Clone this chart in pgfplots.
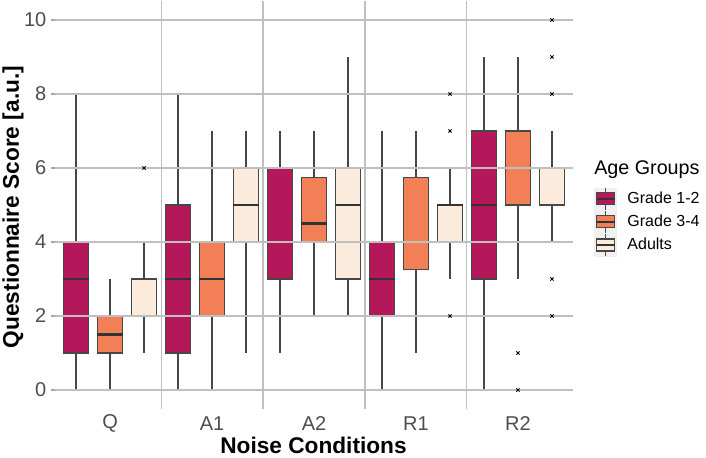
\documentclass[border=0pt]{standalone}
\usepackage{pgfplots}
\pgfplotsset{compat=1.18}
\usepgfplotslibrary{statistics}
\usepackage{fontspec}
\setmainfont{Liberation Sans}
\definecolor{gA}{HTML}{B5185A}
\definecolor{gB}{HTML}{F27F56}
\definecolor{gC}{HTML}{FAEBDD}
\definecolor{edge}{HTML}{474747}
\definecolor{tick}{HTML}{4D4D4D}
% box without outliers: pos, lw, lq, med, uq, uw, colour
\newcommand{\bx}[7]{%
\addplot[boxplot prepared={draw position=#1, lower whisker=#2, lower quartile=#3, median=#4, upper quartile=#5, upper whisker=#6, box extend=0.25, whisker extend=0}, fill=#7, draw=edge, line width=1pt, forget plot] coordinates {};}
% box with outliers: pos, lw, lq, med, uq, uw, colour, outliers (v\\ rows)
\newcommand{\bxo}[8]{%
\addplot[boxplot prepared={draw position=#1, lower whisker=#2, lower quartile=#3, median=#4, upper quartile=#5, upper whisker=#6, box extend=0.25, whisker extend=0}, fill=#7, draw=edge, line width=1pt, mark=x, mark size=1.7pt, mark options={draw=black, line width=0.7pt}, forget plot] table[row sep=\\, y index=0] {v\\#8};}
\begin{document}
\begin{tikzpicture}
\useasboundingbox (-41.25pt,-36.375pt) rectangle (488.25pt,306.375pt);
\begin{axis}[
  at={(0pt,0pt)}, anchor=south west,
  scale only axis, width=388.5pt, height=305.25pt,
  xmin=0.46, xmax=5.54, ymin=-0.5, ymax=10.5,
  xtick={1,2,3,4,5}, xticklabels={Q,A1,A2,R1,R2},
  minor xtick={1.5,2.5,3.5,4.5},
  ytick={0,2,4,6,8,10},
  xmajorgrids=false, xminorgrids=true, ymajorgrids=true,
  major grid style={black!25, line width=0.8pt},
  minor grid style={black!25, line width=0.8pt},
  axis on top,
  axis line style={draw=none},
  xtick pos=bottom, ytick pos=left,
  xtick style={draw=none}, minor tick style={draw=none}, minor tick length=0pt,
  ytick style={black!35, line width=0.8pt},
  major tick length=3pt, tick align=outside,
  ticklabel style={font=\fontsize{15}{15}\selectfont, text=tick},
  /pgf/number format/assume math mode=true,
  xticklabel style={anchor=center, yshift=-8.5pt},
  xlabel={Noise Conditions}, ylabel={Questionnaire Score [a.u.]},
  label style={font=\bfseries\fontsize{17}{17}\selectfont},
  xlabel style={at={(axis description cs:0.499,-0.0897)}, anchor=center},
  ylabel style={at={(axis description cs:-0.081,0.495)}, anchor=center},
  boxplot/draw direction=y,
  boxplot/every median/.style={draw=black!80, line width=2pt},
  boxplot/every whisker/.style={draw=edge, line width=1pt},
  legend style={at={(axis description cs:1.0405,0.544)}, anchor=north west, draw=none, fill=none, inner sep=0pt, row sep=0pt, font=\fontsize{12}{12}\selectfont, /tikz/every odd column/.append style={column sep=6pt}},
  legend cell align=left,
  clip=false,
]
% Q
\bx{0.6667}{0}{1}{3}{4}{8}{gA}
\bx{1}{0}{1}{1.5}{2}{3}{gB}
\bxo{1.3333}{1}{2}{2}{3}{4}{gC}{6\\}
% A1
\bx{1.6667}{0}{1}{3}{5}{8}{gA}
\bx{2}{0}{2}{3}{4}{7}{gB}
\bx{2.3333}{1}{4}{5}{6}{7}{gC}
% A2
\bx{2.6667}{1}{3}{6}{6}{7}{gA}
\bx{3}{2}{4}{4.5}{5.75}{7}{gB}
\bx{3.3333}{2}{3}{5}{6}{9}{gC}
% R1
\bx{3.6667}{0}{2}{3}{4}{7}{gA}
\bx{4}{1}{3.25}{4}{5.75}{7}{gB}
\bxo{4.3333}{3}{4}{5}{5}{6}{gC}{2\\7\\8\\}
% R2
\bx{4.6667}{0}{3}{5}{7}{9}{gA}
\bxo{5}{3}{5}{6}{7}{9}{gB}{1\\0\\}
\bxo{5.3333}{4}{5}{6}{6}{7}{gC}{10\\9\\8\\3\\2\\}
% legend
\addlegendimage{legend image code/.code={
  \fill[black!6] (0pt,-8.25pt) rectangle (16.5pt,8.25pt);
  \draw[edge, line width=0.8pt] (8.25pt,-8.25pt) -- (8.25pt,-4.5pt) (8.25pt,4.5pt) -- (8.25pt,8.25pt);
  \filldraw[fill=gA, draw=edge, line width=0.8pt] (1.5pt,-4.5pt) rectangle (15pt,4.5pt);
  \draw[black!80, line width=1.2pt] (1.5pt,0pt) -- (15pt,0pt);}}
\addlegendentry{Grade 1-2}
\addlegendimage{legend image code/.code={
  \fill[black!6] (0pt,-8.25pt) rectangle (16.5pt,8.25pt);
  \draw[edge, line width=0.8pt] (8.25pt,-8.25pt) -- (8.25pt,-4.5pt) (8.25pt,4.5pt) -- (8.25pt,8.25pt);
  \filldraw[fill=gB, draw=edge, line width=0.8pt] (1.5pt,-4.5pt) rectangle (15pt,4.5pt);
  \draw[black!80, line width=1.2pt] (1.5pt,0pt) -- (15pt,0pt);}}
\addlegendentry{Grade 3-4}
\addlegendimage{legend image code/.code={
  \fill[black!6] (0pt,-8.25pt) rectangle (16.5pt,8.25pt);
  \draw[edge, line width=0.8pt] (8.25pt,-8.25pt) -- (8.25pt,-4.5pt) (8.25pt,4.5pt) -- (8.25pt,8.25pt);
  \filldraw[fill=gC, draw=edge, line width=0.8pt] (1.5pt,-4.5pt) rectangle (15pt,4.5pt);
  \draw[black!80, line width=1.2pt] (1.5pt,0pt) -- (15pt,0pt);}}
\addlegendentry{Adults}
\node[anchor=west, font=\fontsize{14.8}{14.8}\selectfont, inner sep=0pt] at (axis description cs:1.0405,0.586) {Age Groups};
\end{axis}
\end{tikzpicture}
\end{document}
